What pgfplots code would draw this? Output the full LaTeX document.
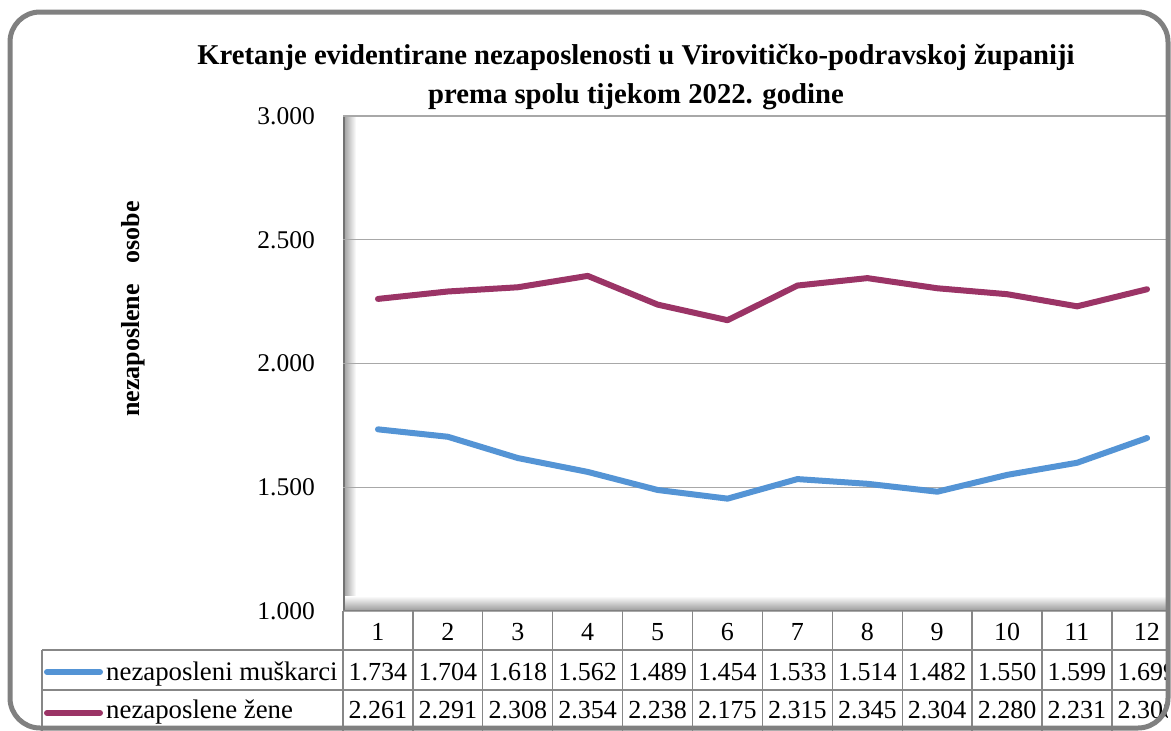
\documentclass[border=0pt]{standalone}
\usepackage{pgfplots}
\pgfplotsset{compat=1.18}
\usepackage{pgfplotstable}
\usepackage{fontspec}
\setmainfont{Liberation Serif}
\definecolor{mblue}{RGB}{84,148,213}
\definecolor{mmag}{RGB}{155,52,102}
\definecolor{gridc}{RGB}{168,168,168}
\definecolor{tabc}{RGB}{135,135,135}
\definecolor{framec}{RGB}{128,128,128}

\pgfplotstableread{
m men women
1 1734 2261
2 1704 2291
3 1618 2308
4 1562 2354
5 1489 2238
6 1454 2175
7 1533 2315
8 1514 2345
9 1482 2304
10 1550 2280
11 1599 2231
12 1699 2300
}\data

\begin{document}
\begin{tikzpicture}[x=1pt,y=1pt]
\useasboundingbox (0,0) rectangle (1171,-731);
\clip (0,0) rectangle (1171,-731);
\fill[white] (0,0) rectangle (1171,-731);

% title
\node[anchor=base, font=\fontsize{28.7}{32}\selectfont\bfseries, inner sep=0pt] at (636,-64) {Kretanje evidentirane nezaposlenosti u Virovitičko-podravskoj županiji};
\node[anchor=base, font=\fontsize{28.7}{32}\selectfont\bfseries, inner sep=0pt] at (636,-103) {prema spolu tijekom 2022. godine};

% y label
\node[rotate=90, font=\fontsize{26}{30}\selectfont\bfseries, inner sep=0pt] at (133,-309) {nezaposlene\hspace{0.8em}osobe};

\begin{scope}
\clip (0,0) rectangle (1167,-731);
% left wall
\shade[left color=black!40, right color=white] (343,-116) rectangle (356,-611);
% floor
\shade[top color=white, bottom color=black!35] (343,-596) rectangle (1182,-609);
\draw[black!55, line width=1.2pt] (344,-116) -- (344,-611);

\begin{axis}[
  at={(343pt,-611pt)}, anchor=south west,
  width=839pt, height=495pt, scale only axis,
  xmin=0.5, xmax=12.5, ymin=1000, ymax=3000,
  axis line style={draw=none},
  major tick length=0pt,
  xtick=\empty,
  ytick={1000,1500,2000,2500,3000},
  yticklabels={1.000,1.500,2.000,2.500,3.000},
  yticklabel style={font=\fontsize{25.5}{25.5}\selectfont, anchor=east, inner sep=0pt, xshift=-28pt},
  ymajorgrids,
  grid style={gridc, line width=1.3pt},
  clip=false,
]
\addplot[mblue, line width=6pt, line cap=round, line join=round] table[x=m, y=men] {\data};
\addplot[mmag, line width=6pt, line cap=round, line join=round] table[x=m, y=women] {\data};
\end{axis}
\draw[black!50, line width=1.5pt] (343,-610.5) -- (1182,-610.5);

% table grid
\foreach \k in {0,...,12} {
  \draw[tabc, line width=1.3pt] ({343+69.9*\k},-611) -- ({343+69.9*\k},-731);
}
\draw[tabc, line width=1.3pt] (42,-650) -- (42,-731);
\draw[tabc, line width=1.3pt] (42,-650) -- (1182,-650);
\draw[tabc, line width=1.3pt] (42,-690) -- (1182,-690);

% header numbers
\foreach \k in {1,...,12} {
  \node[anchor=base, inner sep=0pt, font=\fontsize{26}{26}\selectfont] at ({343+69.9*\k-34.95},-640) {\k};
}
% values
\foreach \v [count=\k] in {1.734,1.704,1.618,1.562,1.489,1.454,1.533,1.514,1.482,1.550,1.599,1.699} {
  \node[anchor=base, inner sep=0pt, font=\fontsize{26}{26}\selectfont] at ({343+69.9*\k-34.95},-680) {\v};
}
\foreach \v [count=\k] in {2.261,2.291,2.308,2.354,2.238,2.175,2.315,2.345,2.304,2.280,2.231,2.300} {
  \node[anchor=base, inner sep=0pt, font=\fontsize{26}{26}\selectfont] at ({343+69.9*\k-34.95},-718) {\v};
}
% legend
\draw[mblue, line width=6pt, line cap=round] (47,-672) -- (100,-672);
\draw[mmag, line width=6pt, line cap=round] (47,-713) -- (100,-713);
\node[anchor=base west, inner sep=0pt, font=\fontsize{26.8}{26.8}\selectfont] at (106,-680) {nezaposleni muškarci};
\node[anchor=base west, inner sep=0pt, font=\fontsize{26.8}{26.8}\selectfont] at (106,-718) {nezaposlene žene};
\end{scope}

% frame
\draw[framec, line width=5pt, rounded corners=30pt] (10,-12) rectangle (1168,-728);
\end{tikzpicture}
\end{document}
